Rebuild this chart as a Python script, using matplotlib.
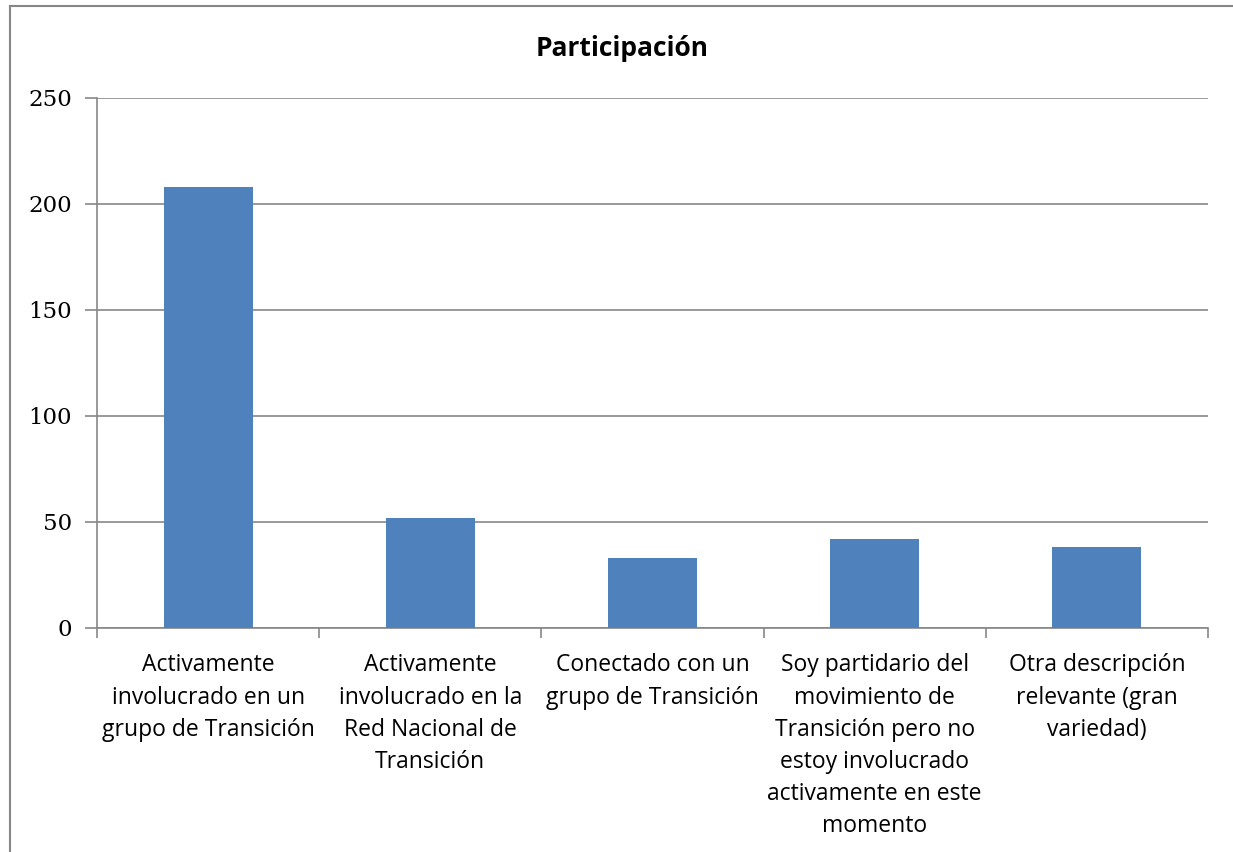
import matplotlib.pyplot as plt
from matplotlib.lines import Line2D

categories = [
    "Activamente\ninvolucrado en un\ngrupo de Transición",
    "Activamente\ninvolucrado en la\nRed Nacional de\nTransición",
    "Conectado con un\ngrupo de Transición",
    "Soy partidario del\nmovimiento de\nTransición pero no\nestoy involucrado\nactivamente en este\nmomento",
    "Otra descripción\nrelevante (gran\nvariedad)",
]
values = [208, 52, 33, 42, 38]
yticks = [0, 50, 100, 150, 200, 250]

W, H = 1233, 852
fig = plt.figure(figsize=(W / 100, H / 100), dpi=100)
ax = fig.add_axes([97 / W, 1 - 628 / H, (1208 - 97) / W, (628 - 98) / H])

grid_color = "#878787"
ax.bar(range(len(values)), values, width=0.4, color="#4F81BD", zorder=3)

ax.set_xlim(-0.5, len(values) - 0.5)
ax.set_ylim(0, 250)
ax.set_yticks(yticks)
ax.set_yticklabels([str(t) for t in yticks], family="DejaVu Serif", fontsize=16.5)
ax.yaxis.grid(True, color=grid_color, linewidth=1.2, zorder=0)

# category labels between boundary ticks
ax.set_xticks([i - 0.5 for i in range(len(values) + 1)])
ax.set_xticklabels([])
for i, lab in enumerate(categories):
    ax.text(i, -0.048, lab, transform=ax.get_xaxis_transform(), ha="center", va="top",
            fontsize=16.5, family="Open Sans", linespacing=1.45)

ax.tick_params(axis="x", length=7, width=1.2, color=grid_color, direction="out")
ax.tick_params(axis="y", length=9, width=1.2, color=grid_color, direction="out", pad=9)
for side in ["top", "right"]:
    ax.spines[side].set_visible(False)
for side in ["left", "bottom"]:
    ax.spines[side].set_color(grid_color)
    ax.spines[side].set_linewidth(1.2)

fig.text(622 / W, 1 - 48 / H, "Participación", ha="center", va="center",
         fontsize=19, fontweight="bold", family="Open Sans")

# outer chart frame (top and left edges visible)
fig.add_artist(Line2D([10 / W, 1], [1 - 6 / H, 1 - 6 / H], transform=fig.transFigure,
                      color=grid_color, linewidth=1.5))
fig.add_artist(Line2D([10 / W, 10 / W], [0, 1 - 6 / H], transform=fig.transFigure,
                      color=grid_color, linewidth=1.5))

fig.savefig("out.png", dpi=100)
